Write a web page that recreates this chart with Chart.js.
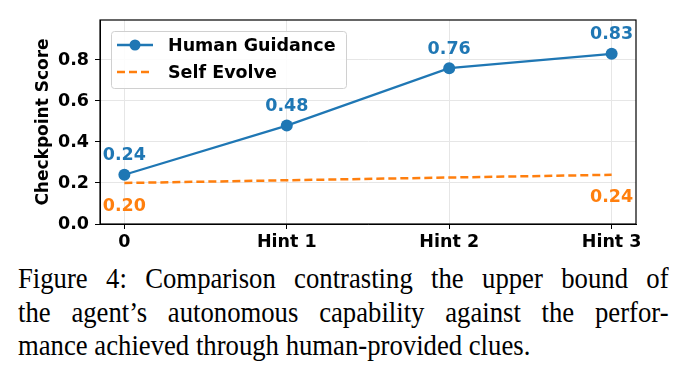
<!DOCTYPE html>
<html>
<head>
<meta charset="utf-8">
<script src="https://cdn.jsdelivr.net/npm/chart.js@4/dist/chart.umd.min.js"></script>
<style>
  body { margin: 0; background: #fff; width: 691px; height: 383px; overflow: hidden; }
  #wrap { position: relative; width: 691px; height: 258px; }
  #caption {
    position: absolute; left: 18px; top: 261px; width: 731px;
    transform: scaleX(0.89); transform-origin: 0 0;
    font-family: "Liberation Serif", "Times New Roman", serif;
    font-size: 30px; line-height: 33.5px; color: #000;
  }
  #caption div { text-align: justify; text-align-last: justify; white-space: nowrap; }
  #caption div.last { text-align-last: left; }
</style>
</head>
<body>
<div id="wrap"><canvas id="scoreChart" width="691" height="258"></canvas></div>
<div id="caption">
  <div>Figure 4: Comparison contrasting the upper bound of</div>
  <div>the agent’s autonomous capability against the perfor-</div>
  <div class="last">mance achieved through human-provided clues.</div>
</div>
<script>
const categories = ['0', 'Hint 1', 'Hint 2', 'Hint 3'];
const humanGuidance = [0.24, 0.48, 0.76, 0.83];
// only the two end values of the dashed line are shown in the figure
const selfEvolve = [0.20, null, null, 0.24];
const yTicks = [0.0, 0.2, 0.4, 0.6, 0.8];

const BLUE = '#1f77b4';
const ORANGE = '#ff7f0e';
const FONT = '"DejaVu Sans", sans-serif';

// frame, legend box and value labels drawn on top of the plot
const extras = {
  id: 'extras',
  afterDatasetsDraw(chart) {
    const ctx = chart.ctx;
    const a = chart.chartArea;
    const x = chart.scales.x, y = chart.scales.y;

    ctx.save();
    // value labels
    ctx.font = 'bold 17.5px ' + FONT;
    ctx.textAlign = 'center';
    ctx.textBaseline = 'middle';
    chart.data.datasets.forEach((ds, i) => {
      ds.data.forEach(p => {
        if (p.y == null) return;
        const px = x.getPixelForValue(p.x), py = y.getPixelForValue(p.y);
        ctx.fillStyle = ds.borderColor;
        if (i === 0) ctx.fillText(p.y.toFixed(2), px, py - 19);
        else ctx.fillText(p.y.toFixed(2), px, py + 23);
      });
    });

    // legend
    const lx = a.left + 11, ly = a.top + 11, lw = 235, lh = 57;
    ctx.fillStyle = 'rgba(255,255,255,0.85)';
    ctx.strokeStyle = '#d0d0d0';
    ctx.lineWidth = 1;
    ctx.beginPath();
    ctx.roundRect(lx + 0.5, ly + 0.5, lw, lh, 3);
    ctx.fill();
    ctx.stroke();
    ctx.font = 'bold 17.5px ' + FONT;
    ctx.textAlign = 'left';
    chart.data.datasets.forEach((ds, i) => {
      const cy = ly + 14 + i * 27;
      ctx.strokeStyle = ds.borderColor;
      ctx.lineWidth = 2.5;
      ctx.setLineDash(ds.borderDash || []);
      ctx.beginPath();
      ctx.moveTo(lx + 6, cy);
      ctx.lineTo(lx + 42, cy);
      ctx.stroke();
      ctx.setLineDash([]);
      if (ds.pointRadius > 0) {
        ctx.fillStyle = ds.borderColor;
        ctx.beginPath();
        ctx.arc(lx + 24, cy, 5.5, 0, Math.PI * 2);
        ctx.fill();
      }
      ctx.fillStyle = '#000';
      ctx.fillText(ds.label, lx + 57, cy + 1);
    });

    // full frame
    ctx.strokeStyle = '#000';
    ctx.lineWidth = 1.2;
    ctx.strokeRect(a.left, a.top, a.right - a.left, a.bottom - a.top);
    ctx.restore();
  }
};

new Chart(document.getElementById('scoreChart'), {
  type: 'line',
  data: {
    datasets: [
      {
        label: 'Human Guidance',
        data: humanGuidance.map((v, i) => ({ x: i, y: v })),
        borderColor: BLUE,
        backgroundColor: BLUE,
        borderWidth: 2.2,
        pointRadius: 6,
        pointBackgroundColor: BLUE,
        pointBorderWidth: 0,
        tension: 0
      },
      {
        label: 'Self Evolve',
        data: selfEvolve.map((v, i) => ({ x: i, y: v })),
        borderColor: ORANGE,
        backgroundColor: ORANGE,
        borderWidth: 2.5,
        borderDash: [8, 4],
        pointRadius: 0,
        spanGaps: true,
        tension: 0
      }
    ]
  },
  options: {
    responsive: false,
    animation: false,
    layout: { padding: { top: 20, right: 55, left: 33, bottom: 0 } },
    plugins: { legend: { display: false }, tooltip: { enabled: false } },
    scales: {
      x: {
        type: 'linear',
        min: -0.15,
        max: 3.15,
        afterBuildTicks: s => { s.ticks = categories.map((c, i) => ({ value: i })); },
        afterFit: s => { s.height = 34; },
        ticks: {
          callback: v => categories[v],
          color: '#000',
          font: { family: FONT, size: 17.5, weight: 'bold' },
          padding: 3,
          maxRotation: 0
        },
        grid: { color: '#e6e6e6', tickColor: '#000', tickLength: 5 },
        border: { color: '#000' }
      },
      y: {
        min: 0,
        max: 0.995,
        afterBuildTicks: s => { s.ticks = yTicks.map(v => ({ value: v })); },
        afterFit: s => { s.width = 67; },
        ticks: {
          callback: v => v.toFixed(1),
          color: '#000',
          font: { family: FONT, size: 17.5, weight: 'bold' },
          padding: 6
        },
        title: {
          display: true,
          text: 'Checkpoint Score',
          color: '#000',
          font: { family: FONT, size: 17, weight: 'bold' },
          padding: { top: 0, bottom: 4 }
        },
        grid: { color: '#e6e6e6', tickColor: '#000', tickLength: 5 },
        border: { color: '#000' }
      }
    }
  },
  plugins: [extras]
});
</script>
</body>
</html>
